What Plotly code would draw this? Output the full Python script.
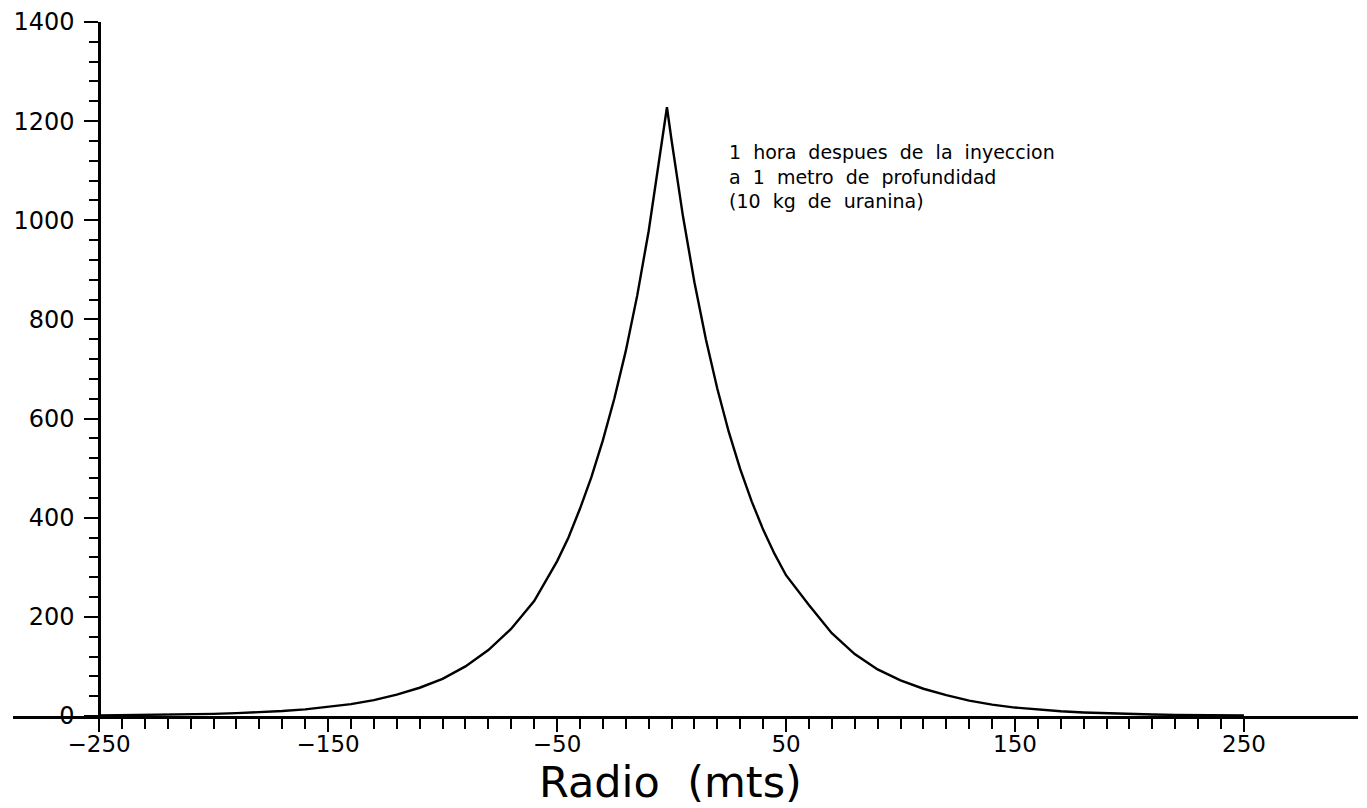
import plotly.graph_objects as go

# Data
radio = [-250, -240, -230, -220, -210, -200, -190, -180, -170, -160, -150, -140, -130,
         -120, -110, -100, -90, -80, -70, -60, -50, -45, -40, -35, -30, -25, -20, -15,
         -10, -5, -2, 0, 5, 10, 15, 20, 25, 30, 35, 40, 45, 50, 60, 70, 80, 90, 100,
         110, 120, 130, 140, 150, 160, 170, 180, 190, 200, 210, 220, 230, 240, 250]
conc = [1.0, 1.4, 1.8, 2.4, 3.2, 4.3, 5.7, 7.6, 10.1, 13.4, 18, 24, 32,
        43, 57, 75, 100, 133, 176, 232, 312, 360, 418, 482, 556, 640, 736, 848,
        978, 1128, 1228, 1162, 1008, 875, 760, 660, 573, 498, 433, 376, 327, 284, 224, 167, 125, 94, 72,
        55, 42, 31, 23, 17, 12.8, 9.6, 7.2, 5.4, 4.0, 3.0, 2.3, 1.7, 1.3, 1.0]

x_ticks = [-250, -150, -50, 50, 150, 250]
y_ticks = [0, 200, 400, 600, 800, 1000, 1200, 1400]
note_lines = ["1\u00a0 hora\u00a0 despues\u00a0 de\u00a0 la\u00a0 inyeccion",
              "a\u00a0 1\u00a0 metro\u00a0 de\u00a0 profundidad",
              "(10\u00a0 kg\u00a0 de\u00a0 uranina)"]
x_title = "Radio\u00a0 (mts)"

XR = [-287.6, 299.8]
YR = [0, 1400]

fig = go.Figure()
fig.add_trace(go.Scatter(x=radio, y=conc, mode="lines",
                         line=dict(color="black", width=2.4), showlegend=False,
                         cliponaxis=False))

font_main = "DejaVu Sans"

fig.update_layout(
    width=1367, height=808,
    margin=dict(l=13, r=9, t=22, b=92, pad=0),
    paper_bgcolor="white", plot_bgcolor="white",
    font=dict(family=font_main, color="black", size=24),
    xaxis=dict(range=XR, showgrid=False, zeroline=False,
               showline=True, linecolor="black", linewidth=2.5,
               tickmode="array", tickvals=x_ticks,
               ticktext=[f"{v}".replace("-", "\u2212") for v in x_ticks],
               ticks="outside", ticklen=13, tickwidth=2, tickcolor="black",
               ticklabelstandoff=-7,
               tickfont=dict(family=font_main, size=23, color="black"),
               minor=dict(tickmode="array",
                          tickvals=[v for v in range(-250, 251, 10)],
                          ticks="outside", ticklen=10, tickwidth=2,
                          tickcolor="black", showgrid=False)),
    yaxis=dict(range=YR, showgrid=False, zeroline=False,
               anchor="free", position=(-250 - XR[0]) / (XR[1] - XR[0]),
               showline=True, linecolor="black", linewidth=2.5,
               tickmode="array", tickvals=y_ticks,
               ticks="outside", ticklen=14, tickwidth=2, tickcolor="black",
               ticklabelstandoff=5,
               tickfont=dict(family=font_main, size=24, color="black"),
               minor=dict(tickmode="array",
                          tickvals=[v for v in range(0, 1401, 40)],
                          ticks="outside", ticklen=9, tickwidth=2,
                          tickcolor="black", showgrid=False)),
)

fig.add_annotation(text="<br>".join(note_lines), xref="paper", yref="paper",
                   x=0.531, y=0.778, xanchor="left", yanchor="middle", align="left",
                   showarrow=False, font=dict(family=font_main, size=19, color="black"))

fig.add_annotation(text=x_title, xref="paper", yref="paper", x=0.4885, y=-0.1326,
                   xanchor="center", yanchor="bottom", showarrow=False, borderpad=0,
                   font=dict(family=font_main, size=43, color="black"))

fig.write_html("out.html")
